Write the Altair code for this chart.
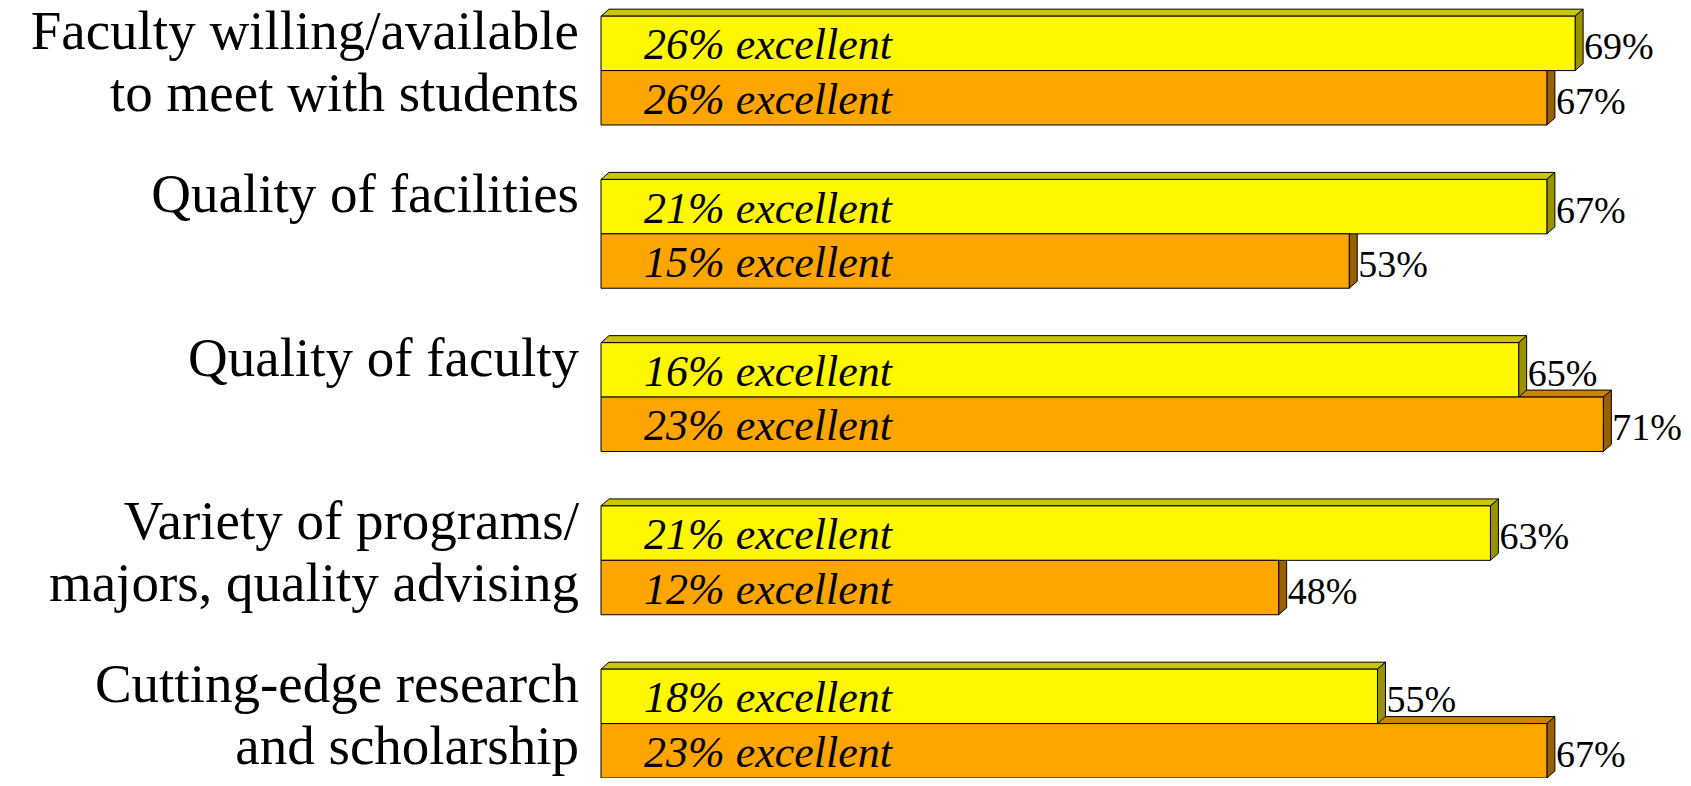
import altair as alt
import pandas as pd

# ---------------- data ----------------
categories = [
    "Faculty willing/available\nto meet with students",
    "Quality of facilities",
    "Quality of faculty",
    "Variety of programs/\nmajors, quality advising",
    "Cutting-edge research\nand scholarship",
]
series_names = ["Yellow series", "Orange series"]
yellow_pct = [69, 67, 65, 63, 55]
orange_pct = [67, 53, 71, 48, 67]
yellow_excellent = [26, 21, 16, 21, 18]
orange_excellent = [26, 15, 23, 12, 23]

# ---------------- styles / layout ----------------
front_colors = ["#FFF700", "#FFA500"]
top_colors = ["#CCC600", "#CC8400"]
side_colors = ["#9A9300", "#9A6000"]
FONT = "Liberation Serif"

W, H = 1080, 770
X_MAX = 76.5
Y_MIN, Y_MAX = -0.15, 14.0
GROUP_STEP = 3
DEPTH_X_PX, DEPTH_Y_PX = 8, 7
dxu = DEPTH_X_PX * X_MAX / W
dyu = DEPTH_Y_PX * (Y_MAX - Y_MIN) / H

# ---------------- tables built from the arrays ----------------
bars, tops, sides = [], [], []
for g, cat in enumerate(categories):
    for s, (vals, exc) in enumerate(
        [(yellow_pct, yellow_excellent), (orange_pct, orange_excellent)]
    ):
        v = vals[g]
        row = g * GROUP_STEP + s
        bid = f"{g}-{s}"
        bars.append(
            dict(bar=bid, category=cat, series=series_names[s], value=v,
                 x0=0, row_top=row, row_bot=row + 1, row_mid=row + 0.5,
                 inside=f"{exc[g]}% excellent", label=f"{v}%")
        )
        tops.append(dict(bar=bid, series=series_names[s], y=row, xa=0, xb=v))
        tops.append(dict(bar=bid, series=series_names[s], y=row - dyu, xa=dxu, xb=v + dxu))
        sides.append(dict(bar=bid, series=series_names[s], x=v, ya=row, yb=row + 1))
        sides.append(dict(bar=bid, series=series_names[s], x=v + dxu, ya=row - dyu, yb=row + 1 - dyu))

bars_df = pd.DataFrame(bars)
tops_df = pd.DataFrame(tops)
sides_df = pd.DataFrame(sides)
cats_df = pd.DataFrame({"category": categories,
                        "top": [g * GROUP_STEP for g in range(len(categories))]})

xs = alt.Scale(domain=[0, X_MAX], nice=False, zero=False)
ys = alt.Scale(domain=[Y_MIN, Y_MAX], reverse=True, nice=False, zero=False)


def top_face(i):
    return alt.Chart(tops_df[tops_df.series == series_names[i]]).mark_area(
        orient="horizontal", fill=top_colors[i], stroke="black", strokeWidth=1
    ).encode(
        y=alt.Y("y:Q", scale=ys, axis=None),
        x=alt.X("xa:Q", scale=xs, axis=None),
        x2="xb:Q",
        detail="bar:N",
    )


def side_face(i):
    return alt.Chart(sides_df[sides_df.series == series_names[i]]).mark_area(
        orient="vertical", fill=side_colors[i], stroke="black", strokeWidth=1
    ).encode(
        x=alt.X("x:Q", scale=xs, axis=None),
        y=alt.Y("ya:Q", scale=ys, axis=None),
        y2="yb:Q",
        detail="bar:N",
    )


fronts = alt.Chart(bars_df).mark_rect(stroke="black", strokeWidth=1).encode(
    x=alt.X("x0:Q", scale=xs, axis=None),
    x2="value:Q",
    y=alt.Y("row_top:Q", scale=ys, axis=None),
    y2="row_bot:Q",
    fill=alt.Fill("series:N", scale=alt.Scale(domain=series_names, range=front_colors),
                  legend=None),
)

inside = alt.Chart(bars_df).mark_text(
    align="left", baseline="middle", dx=43, dy=3, font=FONT, fontSize=44,
    fontStyle="italic", color="black"
).encode(
    x=alt.X("x0:Q", scale=xs, axis=None),
    y=alt.Y("row_mid:Q", scale=ys, axis=None),
    text="inside:N",
)

values = alt.Chart(bars_df).mark_text(
    align="left", baseline="middle", dx=9, dy=5, font=FONT, fontSize=38, color="black"
).encode(
    x=alt.X("value:Q", scale=xs, axis=None),
    y=alt.Y("row_mid:Q", scale=ys, axis=None),
    text="label:N",
)

cat_text = alt.Chart(cats_df).mark_text(
    align="right", baseline="alphabetic", dy=33, font=FONT, fontSize=55,
    lineBreak="\n", lineHeight=62, color="black"
).encode(
    x=alt.value(-22),
    y=alt.Y("top:Q", scale=ys, axis=None),
    text="category:N",
)

chart = alt.layer(
    top_face(1), side_face(1), top_face(0), side_face(0),
    fronts, inside, values, cat_text
).properties(
    width=W, height=H,
    padding={"left": 593, "top": 0, "right": 0, "bottom": 0},
    autosize=alt.AutoSizeParams(type="none"),
    background="white",
).configure_view(stroke=None)

chart.save("out.html", embed_options={"renderer": "svg", "actions": False})
